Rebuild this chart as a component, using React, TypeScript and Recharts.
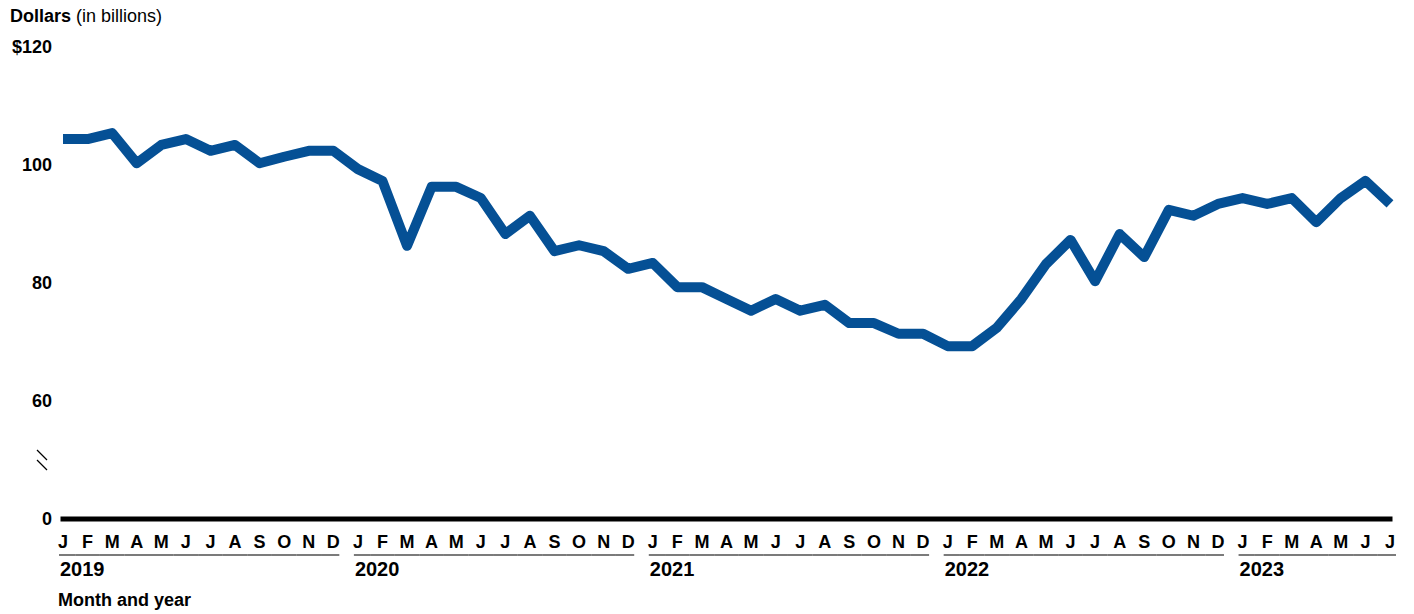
import React from 'react';
import { LineChart, Line, XAxis, YAxis } from 'recharts';

const months = ['J', 'F', 'M', 'A', 'M', 'J', 'J', 'A', 'S', 'O', 'N', 'D'];
const years = ['2019', '2020', '2021', '2022', '2023'];

// monthly values, billions of dollars, Jan 2019 - Jul 2023
const values2019 = [104.4, 104.4, 105.4, 100.3, 103.4, 104.4, 102.4, 103.4, 100.3, 101.4, 102.4, 102.4];
const values2020 = [99.3, 97.3, 86.3, 96.3, 96.3, 94.4, 88.3, 91.4, 85.4, 86.4, 85.4, 82.4];
const values2021 = [83.4, 79.3, 79.3, 77.3, 75.3, 77.3, 75.3, 76.3, 73.2, 73.2, 71.4, 71.4];
const values2022 = [69.3, 69.3, 72.4, 77.3, 83.2, 87.3, 80.3, 88.3, 84.4, 92.4, 91.4, 93.4];
const values2023 = [94.4, 93.4, 94.4, 90.3, 94.4, 97.3, 93.4];

// broken axis: the bottom tick (40) is shown as 0
const yTicks = [40, 50, 60, 80, 100, 120];
const yTickLabels: Record<number, string> = { 40: '0', 60: '60', 80: '80', 100: '100', 120: '$120' };

const allValues = [values2019, values2020, values2021, values2022, values2023];
const data = allValues.flatMap((vals, yi) =>
  vals.map((v, mi) => ({ idx: yi * 12 + mi, month: months[mi], year: years[yi], monthIndex: mi, value: v }))
);

const W = 1414;
const H = 614;
const X_AXIS_H = 95;
const MARGIN = { top: 47, right: 24, left: 0, bottom: 0 };
const Y_AXIS_W = 63;
const STEP = (W - MARGIN.right - Y_AXIS_W) / (data.length - 1);
const FONT = '"Liberation Sans", Arial, sans-serif';

const MonthTick = (props: any) => {
  const { x, y, payload } = props;
  const d = data[payload.value];
  if (!d) return null;
  const isLastInYear = d.monthIndex === 11 || payload.value === data.length - 1;
  const left = d.monthIndex === 0 ? x - 4 : x - STEP / 2;
  const right = isLastInYear ? x + 6 : x + STEP / 2;
  return (
    <g>
      <text x={x} y={y + 21} textAnchor="middle" fontSize={18} fontWeight="bold" fill="#000" fontFamily={FONT}>
        {d.month}
      </text>
      <line x1={left} x2={right} y1={y + 28} y2={y + 28} stroke="#333" strokeWidth={1.3} />
      {d.monthIndex === 0 && (
        <text x={x - 3} y={y + 49} textAnchor="start" fontSize={20} fontWeight="bold" fill="#000" fontFamily={FONT}>
          {d.year}
        </text>
      )}
    </g>
  );
};

const ValueTick = (props: any) => {
  const { x, y, payload } = props;
  if (payload.value === 50) {
    return (
      <g stroke="#000" strokeWidth={1.3}>
        <line x1={37} y1={y - 10} x2={47} y2={y} />
        <line x1={37} y1={y} x2={47} y2={y + 10} />
      </g>
    );
  }
  return (
    <text x={x} y={y} dy={6} textAnchor="end" fontSize={18} fontWeight="bold" fill="#000" fontFamily={FONT}>
      {yTickLabels[payload.value]}
    </text>
  );
};

export default function App() {
  return (
    <div style={{ position: 'absolute', left: 0, top: 0, width: W, height: H, background: '#fff', fontFamily: FONT }}>
      <div style={{ position: 'absolute', left: 10, top: 6, fontSize: 18, color: '#000', whiteSpace: 'nowrap' }}>
        <b>Dollars</b> (in billions)
      </div>
      <LineChart width={W} height={H} data={data} margin={MARGIN}>
        <XAxis
          dataKey="idx"
          type="number"
          domain={[0, data.length - 1]}
          ticks={data.map((d) => d.idx)}
          interval={0}
          axisLine={{ stroke: '#000', strokeWidth: 5, strokeLinecap: 'square' }}
          tickLine={false}
          tick={<MonthTick />}
          height={X_AXIS_H}
        />
        <YAxis
          domain={[40, 120]}
          ticks={yTicks}
          interval={0}
          width={Y_AXIS_W}
          axisLine={false}
          tickLine={false}
          tickSize={0}
          tickMargin={11}
          tick={<ValueTick />}
        />
        <Line
          type="linear"
          dataKey="value"
          stroke="#055095"
          strokeWidth={10}
          strokeLinejoin="round"
          dot={false}
          activeDot={false}
          isAnimationActive={false}
        />
      </LineChart>
      <div style={{ position: 'absolute', left: 58, top: 590, fontSize: 18, fontWeight: 'bold', color: '#000', whiteSpace: 'nowrap' }}>
        Month and year
      </div>
    </div>
  );
}
